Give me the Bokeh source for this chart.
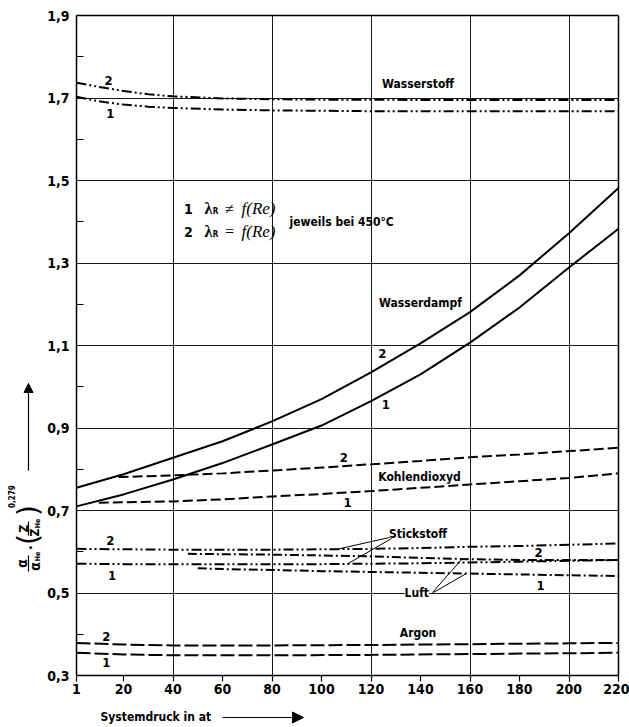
import numpy as np
from bokeh.plotting import figure
from bokeh.models import Range1d, FixedTicker, Label, Arrow, NormalHead, LinearAxis
from bokeh.embed import file_html
from bokeh.resources import INLINE

# ---------------- data ----------------
x_ticks = [1, 20, 40, 60, 80, 100, 120, 140, 160, 180, 200, 220]
x_grid = [40, 80, 120, 160, 200]
y_ticks = [0.3, 0.5, 0.7, 0.9, 1.1, 1.3, 1.5, 1.7, 1.9]
y_tick_labels = ["0,3", "0,5", "0,7", "0,9", "1,1", "1,3", "1,5", "1,7", "1,9"]
y_minor = [0.4, 0.6, 0.8, 1.0, 1.2, 1.4, 1.6, 1.8]
y_grid = [0.5, 0.7, 0.9, 1.1, 1.3, 1.5, 1.7]

# Wasserstoff (hydrogen)
h2_x = [1, 10, 20, 30, 40, 60, 80, 100, 120, 140, 160, 180, 200, 220]
h2_2 = [1.737, 1.727, 1.717, 1.709, 1.704, 1.699, 1.697, 1.696, 1.696, 1.695, 1.695, 1.695, 1.695, 1.695]
h2_1 = [1.703, 1.692, 1.684, 1.679, 1.676, 1.672, 1.670, 1.669, 1.668, 1.668, 1.668, 1.668, 1.668, 1.668]

# Wasserdampf (steam)
h2o_x = [1, 20, 40, 60, 80, 100, 120, 140, 160, 180, 200, 220]
h2o_2 = [0.755, 0.788, 0.828, 0.868, 0.916, 0.970, 1.035, 1.105, 1.181, 1.270, 1.372, 1.482]
h2o_1 = [0.710, 0.739, 0.775, 0.815, 0.860, 0.906, 0.965, 1.030, 1.107, 1.192, 1.289, 1.383]

# Kohlendioxyd (CO2)
co2_2_x = [18, 40, 60, 80, 100, 120, 140, 160, 180, 200, 220]
co2_2 = [0.781, 0.785, 0.790, 0.797, 0.804, 0.812, 0.820, 0.829, 0.836, 0.844, 0.852]
co2_1_x = [10, 40, 60, 80, 100, 120, 140, 160, 180, 200, 220]
co2_1 = [0.719, 0.722, 0.727, 0.734, 0.740, 0.747, 0.755, 0.763, 0.771, 0.779, 0.790]

# Stickstoff (N2)
n2_x = [1, 20, 40, 60, 80, 100, 120, 140, 160, 180, 200, 220]
n2_2 = [0.607, 0.606, 0.605, 0.605, 0.605, 0.606, 0.607, 0.609, 0.612, 0.614, 0.617, 0.620]
n2_1 = [0.571, 0.570, 0.570, 0.570, 0.570, 0.570, 0.571, 0.572, 0.574, 0.576, 0.578, 0.580]

# Luft (air)
air_2_x = [46, 60, 80, 100, 120, 140, 160, 180, 200, 220]
air_2 = [0.595, 0.594, 0.593, 0.591, 0.589, 0.585, 0.582, 0.580, 0.580, 0.580]
air_1_x = [50, 60, 80, 100, 120, 140, 160, 180, 200, 220]
air_1 = [0.560, 0.558, 0.556, 0.553, 0.551, 0.549, 0.547, 0.545, 0.543, 0.541]

# Argon
ar_x = [1, 20, 40, 80, 120, 160, 200, 220]
ar_2 = [0.379, 0.375, 0.373, 0.373, 0.374, 0.376, 0.378, 0.379]
ar_1 = [0.355, 0.351, 0.349, 0.349, 0.350, 0.352, 0.354, 0.355]

# ---------------- layout ----------------
W, H = 629, 727
FL, FR, FT, FB = 76, 618, 15, 675          # pixel box of the chart area
X0, X1, Y0, Y1 = 1, 220, 0.3, 1.9
FONT = "DejaVu Sans Condensed, Roboto"
SERIF = "Liberation Serif"


def dx(px):
    return X0 + (px - FL) * (X1 - X0) / (FR - FL)


def dy(py):
    return Y1 - (py - FT) * (Y1 - Y0) / (FB - FT)


# the frame covers the whole page so that titles in the margins are not clipped;
# the axes are pinned to the chart box with fixed_location / bounds
p = figure(width=W, height=H,
           x_range=Range1d(dx(0), dx(W)), y_range=Range1d(dy(H), dy(0)),
           output_backend="svg", toolbar_location=None, min_border=0)
p.background_fill_color = "white"
p.border_fill_color = "white"
p.outline_line_color = None

xa = p.xaxis[0]
ya = p.yaxis[0]
xa.fixed_location = Y0
xa.bounds = (X0, X1)
ya.fixed_location = X0
ya.bounds = (Y0, Y1)
xa.ticker = FixedTicker(ticks=x_ticks)
ya.ticker = FixedTicker(ticks=y_ticks, minor_ticks=y_minor)
ya.major_label_overrides = {t: l for t, l in zip(y_ticks, y_tick_labels)}
for ax in (xa, ya):
    ax.axis_line_color = "black"
    ax.axis_line_width = 1.5
    ax.major_tick_line_color = "black"
    ax.major_tick_line_width = 1.2
    ax.minor_tick_line_color = "black"
    ax.minor_tick_line_width = 1.2
    ax.major_label_text_font = FONT
    ax.major_label_text_font_style = "bold"
    ax.major_label_text_font_size = "14px"
    ax.major_label_text_color = "black"
xa.major_tick_in = 0
xa.major_tick_out = 6
xa.minor_tick_in = 0
xa.minor_tick_out = 0
xa.major_label_standoff = 2
ya.major_tick_in = 0
ya.major_tick_out = 0
ya.minor_tick_in = 7
ya.minor_tick_out = 0
ya.major_label_standoff = 7

# top and right border as plain axes
top = LinearAxis(fixed_location=Y1, bounds=(X0, X1), ticker=FixedTicker(ticks=[]),
                 major_tick_in=0, major_tick_out=0, minor_tick_in=0, minor_tick_out=0,
                 major_label_text_font_size="0px", axis_line_width=1.5)
right = LinearAxis(fixed_location=X1, bounds=(Y0, Y1), ticker=FixedTicker(ticks=[]),
                   major_tick_in=0, major_tick_out=0, minor_tick_in=0, minor_tick_out=0,
                   major_label_text_font_size="0px", axis_line_width=1.5)
p.add_layout(top, "above")
p.add_layout(right, "right")

# grids limited to the chart box
xg = p.xgrid[0]
yg = p.ygrid[0]
xg.ticker = FixedTicker(ticks=x_grid)
yg.ticker = FixedTicker(ticks=y_grid)
if "cross_bounds" in xg.properties():
    xg.bounds = (X0, X1)
    xg.cross_bounds = (Y0, Y1)
    yg.bounds = (Y0, Y1)
    yg.cross_bounds = (X0, X1)
    for g in (xg, yg):
        g.grid_line_color = "black"
        g.grid_line_width = 1
        g.grid_line_alpha = 0.9
else:
    xg.visible = False
    yg.visible = False
    p.segment(x_grid, [Y0] * len(x_grid), x_grid, [Y1] * len(x_grid),
              line_color="black", line_width=1, line_alpha=0.9)
    p.segment([X0] * len(y_grid), y_grid, [X1] * len(y_grid), y_grid,
              line_color="black", line_width=1, line_alpha=0.9)

DASHDOTDOT = "10 3 2 3 2 3"
DASHDOT = "9 3 2 3"
DASH = "10 4"
LONGDASH = "14 4"
LW = 2

p.line(h2_x, h2_2, line_color="black", line_width=LW, line_dash=DASHDOTDOT)
p.line(h2_x, h2_1, line_color="black", line_width=LW, line_dash=DASHDOTDOT)
p.line(h2o_x, h2o_2, line_color="black", line_width=LW)
p.line(h2o_x, h2o_1, line_color="black", line_width=LW)
p.line(co2_2_x, co2_2, line_color="black", line_width=LW, line_dash=DASH)
p.line(co2_1_x, co2_1, line_color="black", line_width=LW, line_dash=DASH)
p.line(n2_x, n2_2, line_color="black", line_width=LW, line_dash=DASHDOTDOT)
p.line(n2_x, n2_1, line_color="black", line_width=LW, line_dash=DASHDOTDOT)
p.line(air_2_x, air_2, line_color="black", line_width=LW, line_dash=DASHDOT)
p.line(air_1_x, air_1, line_color="black", line_width=LW, line_dash=DASHDOT)
p.line(ar_x, ar_2, line_color="black", line_width=LW, line_dash=LONGDASH)
p.line(ar_x, ar_1, line_color="black", line_width=LW, line_dash=LONGDASH)

# leader lines (label -> curve)
lead_x0 = [dx(389), dx(391), dx(432), dx(433)]
lead_y0 = [dy(537), dy(538), dy(592), dy(592)]
lead_x1 = [106.5, 110.5, 156.8, 158.5]
lead_y1 = [float(np.interp(106.5, n2_x, n2_2)), float(np.interp(110.5, n2_x, n2_1)),
           float(np.interp(156.8, air_2_x, air_2)), float(np.interp(158.5, air_1_x, air_1))]
p.segment(lead_x0, lead_y0, lead_x1, lead_y1, line_color="black", line_width=1)


def lab(x, y, text, size="12px", font=FONT, style="bold", align="center",
        baseline="middle", angle=0.0, bg=None):
    l = Label(x=x, y=y, text=text, text_font=font, text_font_style=style,
              text_font_size=size, text_align=align, text_baseline=baseline,
              text_color="black", angle=angle)
    if bg is not None:
        l.background_fill_color = bg
    p.add_layout(l)
    return l


# gas names
lab(139, 1.735, "Wasserstoff")
lab(140, 1.202, "Wasserdampf")
lab(139.6, 0.782, "Kohlendioxyd")
lab(139, 0.643, "Stickstoff")
lab(138.5, 0.499, "Luft", bg="white")
lab(139, 0.404, "Argon")

# curve numbers
num_pos = [(14, 1.742, "2"), (14.7, 1.662, "1"),
           (124.6, 1.080, "2"), (126, 0.957, "1"),
           (109, 0.829, "2"), (110.5, 0.719, "1"),
           (14.7, 0.627, "2"), (15.4, 0.542, "1"),
           (187.7, 0.599, "2"), (188.5, 0.518, "1"),
           (13, 0.395, "2"), (13, 0.332, "1")]
for x, y, t in num_pos:
    lab(x, y, t, size="13px")

# legend block
for py, n, rel in [(208, "1", "\u2260"), (231, "2", "=")]:
    lab(dx(188), dy(py), n, size="14px")
    lab(dx(208), dy(py), "\u03bb", size="16px", font=SERIF, style="bold")
    lab(dx(215), dy(py + 3), "R", size="8px")
    lab(dx(229), dy(py), rel, size="16px", font=SERIF, style="normal")
    lab(dx(241), dy(py), "f(Re)", size="17px", font=SERIF, style="italic", align="left")
lab(dx(289), dy(221), "jeweils bei 450\u00b0C", size="12px", align="left")

# x axis title with arrow
lab(dx(100), dy(716), "Systemdruck in at", size="12px", align="left")
p.add_layout(Arrow(end=NormalHead(size=11, fill_color="black", line_color="black"),
                   x_start=dx(222), y_start=dy(717), x_end=dx(303), y_end=dy(717),
                   line_color="black", line_width=1.2))

# y axis title (rotated formula) with arrow
A = np.pi / 2
lab(dx(21), dy(563), "\u03b1", size="14px", angle=A)
p.add_layout(Arrow(end=None, x_start=dx(28), y_start=dy(555), x_end=dx(28), y_end=dy(571),
                   line_color="black", line_width=1.2))
lab(dx(34), dy(566), "\u03b1", size="14px", angle=A)
lab(dx(37), dy(556), "He", size="7px", angle=A)
lab(dx(30), dy(547), "\u00b7", size="14px", angle=A)
lab(dx(28), dy(539), "(", size="28px", font="DejaVu Sans", style="normal", angle=A)
lab(dx(23), dy(528), "Z", size="12px", angle=A)
p.add_layout(Arrow(end=None, x_start=dx(28), y_start=dy(521), x_end=dx(28), y_end=dy(535),
                   line_color="black", line_width=1.2))
lab(dx(34), dy(532), "Z", size="12px", angle=A)
lab(dx(37), dy(523), "He", size="7px", angle=A)
lab(dx(28), dy(510), ")", size="28px", font="DejaVu Sans", style="normal", angle=A)
lab(dx(11), dy(496), "0,279", size="8px", angle=A)
p.add_layout(Arrow(end=NormalHead(size=9, fill_color="black", line_color="black"),
                   x_start=dx(28), y_start=dy(470), x_end=dx(28), y_end=dy(383),
                   line_color="black", line_width=1.2))

open("out.html", "w").write(file_html(p, INLINE))
